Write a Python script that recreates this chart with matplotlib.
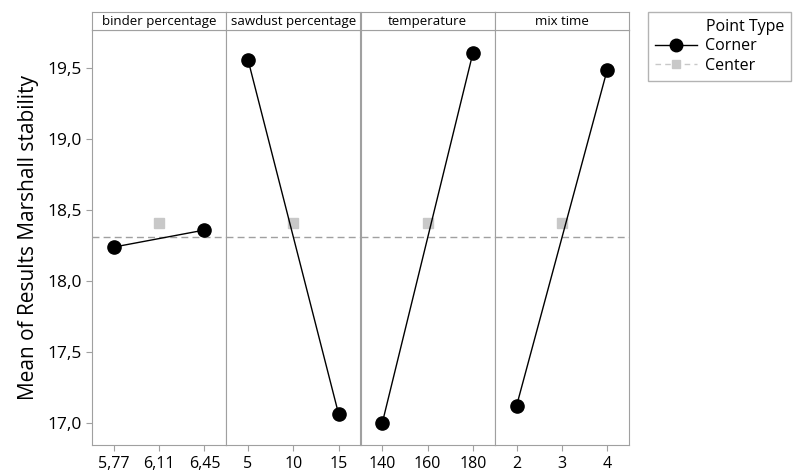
import matplotlib.pyplot as plt
from matplotlib.lines import Line2D

plt.rcParams['font.family'] = ['Open Sans', 'DejaVu Sans']

# factor names and their levels (low, center, high)
factors = ["binder percentage", "sawdust percentage", "temperature", "mix time"]
levels = [["5,77", "6,11", "6,45"],
          ["5", "10", "15"],
          ["140", "160", "180"],
          ["2", "3", "4"]]

# mean response at low / high corner levels, and at the center point
corner_low = [18.24, 19.56, 17.00, 17.12]
corner_high = [18.36, 17.06, 19.61, 19.49]
center_mean = 18.41
overall_mean = 18.31

yticks = [17.0, 17.5, 18.0, 18.5, 19.0, 19.5]
ytick_labels = ["17,0", "17,5", "18,0", "18,5", "19,0", "19,5"]

W, H = 798, 471
fig = plt.figure(figsize=(W / 100, H / 100), dpi=100)

left, right = 92, 629
top_hdr, hdr_bottom, bottom = 12, 30, 445
pw = (right - left) / 4
grey = "#a0a0a0"

for i, name in enumerate(factors):
    x0 = left + i * pw
    ax = fig.add_axes([x0 / W, 1 - bottom / H, pw / W, (bottom - hdr_bottom) / H])
    hd = fig.add_axes([x0 / W, 1 - hdr_bottom / H, pw / W, (hdr_bottom - top_hdr) / H])

    ax.axhline(overall_mean, color=grey, lw=1, ls=(0, (5, 3)), zorder=1)
    ax.plot([-1, 1], [corner_low[i], corner_high[i]], color="black", lw=1,
            marker="o", ms=9.5, zorder=3)
    ax.plot([0], [center_mean], ls="none", marker="s", ms=6.5,
            color="#c8c8c8", zorder=2)

    ax.set_xlim(-1.48, 1.48)
    ax.set_ylim(16.845, 19.77)
    ax.set_xticks([-1, 0, 1])
    ax.set_xticklabels(levels[i], fontsize=11.5)
    ax.tick_params(axis="x", color=grey, length=4, pad=4)
    if i == 0:
        ax.set_yticks(yticks)
        ax.set_yticklabels(ytick_labels, fontsize=12.5)
        ax.tick_params(axis="y", color=grey, length=4, pad=3)
        ax.set_ylabel("Mean of Results Marshall stability", fontsize=15, labelpad=6)
    else:
        ax.set_yticks([])
    for s in ax.spines.values():
        s.set_color(grey)

    hd.set_xticks([])
    hd.set_yticks([])
    for s in hd.spines.values():
        s.set_color(grey)
    hd.text(0.5, 0.45, name, ha="center", va="center", fontsize=9.5,
            transform=hd.transAxes)

# legend
handles = [Line2D([], [], color="none"),
           Line2D([], [], color="black", lw=1, marker="o", ms=9),
           Line2D([], [], color="#c8c8c8", lw=1, ls=(0, (4, 3)), marker="s", ms=6)]
leg = fig.legend(handles, ["Point Type", "Corner", "Center"],
                 loc="upper left", bbox_to_anchor=(648 / W, 1 - 12 / H),
                 borderaxespad=0, fontsize=11.5, frameon=True, fancybox=False,
                 handlelength=2.6, borderpad=0.45, labelspacing=0.2,
                 handletextpad=0.55)
leg.get_frame().set_edgecolor(grey)
leg.get_frame().set_linewidth(1)

fig.savefig("out.png", dpi=100)
